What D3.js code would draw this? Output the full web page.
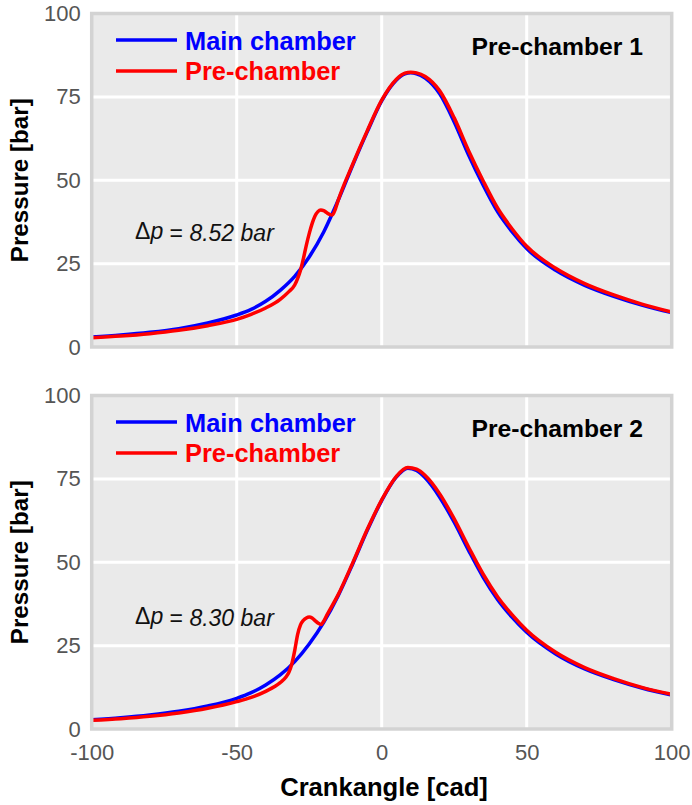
<!DOCTYPE html>
<html><head><meta charset="utf-8">
<script src="https://cdn.jsdelivr.net/npm/d3@7"></script>
<style>
body{margin:0;background:#fff;}
svg{display:block;font-family:"Liberation Sans",Arial,sans-serif;}
</style></head><body>
<svg id="c" width="692" height="805"></svg>
<script>
// ---- data ----
const xTicks = [-100, -50, 0, 50, 100];
const yTicks = [0, 25, 50, 75, 100];
const panelTitles = ["Pre-chamber 1", "Pre-chamber 2"];
const deltaLabels = ["8.52 bar", "8.30 bar"];
const seriesNames = ["Main chamber", "Pre-chamber"];

const caMain1 = [-100,-90,-80,-70,-60,-50,-45,-40,-35,-30,-25,-20,-15,-10,-5,0,5,8,10,12,15,20,25,30,35,40,45,50,60,70,80,90,100];
const main1   = [3.0,3.6,4.4,5.5,7.2,9.6,11.3,13.7,17.0,21.2,27.0,34.5,44.0,54.5,64.5,73.8,80.0,81.9,82.2,81.95,80.6,75.9,67.5,57.5,48.5,40.5,34.5,29.5,23.0,18.5,15.2,12.5,10.3];

const caPre1 = [-100,-90,-80,-70,-60,-50,-45,-40,-35,-32,-30,-29,-28,-27,-26,-25,-24,-23,-22,-21,-20,-19,-18,-17,-16,-15,-10,-5,0,5,8,10,12,15,20,25,30,35,40,45,50,60,70,80,90,100];
const pre1   = [2.8,3.3,4.0,5.0,6.4,8.3,9.8,11.7,14.3,16.6,18.6,20.5,23.0,26.5,30.5,34.0,37.0,39.3,40.6,41.1,40.9,40.3,39.8,39.6,41.3,44.0,54.8,64.8,74.0,80.2,82.1,82.4,82.2,81.1,76.8,68.7,58.8,49.8,41.6,35.4,30.2,23.6,19.0,15.6,12.8,10.5];

const caMain2 = [-100,-90,-80,-70,-60,-50,-45,-40,-35,-30,-25,-20,-15,-10,-5,0,5,9,12,15,20,25,30,35,40,45,50,60,70,80,90,100];
const main2   = [2.8,3.4,4.2,5.3,6.9,9.2,10.9,13.2,16.2,20.2,25.5,32.0,40.0,49.5,59.5,68.5,75.5,78.2,77.5,75.3,69.5,62.0,53.5,45.5,38.8,33.5,29.0,22.5,18.0,14.8,12.2,10.2];

const caPre2 = [-100,-90,-80,-70,-60,-50,-45,-40,-35,-33,-32,-31,-30,-29,-28,-27,-26,-25,-24,-23,-22,-21,-20,-19,-15,-10,-5,0,5,9,12,15,20,25,30,35,40,45,50,60,70,80,90,100];
const pre2   = [2.6,3.1,3.8,4.8,6.2,8.2,9.5,11.3,13.9,15.6,17.0,19.5,23.5,28.3,31.2,32.6,33.3,33.6,33.3,32.5,31.8,31.3,32.3,34.0,40.3,49.8,59.8,68.7,75.7,78.4,77.9,76.0,70.5,63.0,54.5,46.4,39.6,34.2,29.6,23.0,18.4,15.1,12.4,10.4];

const panels = [
  {title: panelTitles[0], delta: deltaLabels[0], main: caMain1.map((c,i)=>[c,main1[i]]), pre: caPre1.map((c,i)=>[c,pre1[i]])},
  {title: panelTitles[1], delta: deltaLabels[1], main: caMain2.map((c,i)=>[c,main2[i]]), pre: caPre2.map((c,i)=>[c,pre2[i]])}
];

// ---- layout ----
const svg = d3.select("#c");
const X0 = 91.7, X1 = 671.7;
const panelTops = [13.5, 395.5], panelH = 333.5;
const x = d3.scaleLinear().domain([-100,100]).range([X0, X1]);
const blue = "#0000ff", red = "#ff0000";
const fmt = d => String(d);

panels.forEach((p, pi) => {
  const top = panelTops[pi], bot = top + panelH;
  const y = d3.scaleLinear().domain([0,100]).range([bot, top]);
  const g = svg.append("g");
  g.append("rect").attr("x", X0).attr("y", top).attr("width", X1-X0).attr("height", panelH).attr("fill", "#eaeaea");
  // grid
  g.selectAll(".gx").data(xTicks.filter(t=>t>-100&&t<100)).join("line")
    .attr("x1", d=>x(d)).attr("x2", d=>x(d)).attr("y1", top).attr("y2", bot)
    .attr("stroke", "#fff").attr("stroke-width", 3);
  g.selectAll(".gy").data(yTicks.filter(t=>t>0&&t<100)).join("line")
    .attr("y1", d=>y(d)).attr("y2", d=>y(d)).attr("x1", X0).attr("x2", X1)
    .attr("stroke", "#fff").attr("stroke-width", 3);
  const clipId = "clip"+pi;
  svg.append("clipPath").attr("id", clipId).append("rect").attr("x", X0).attr("y", top).attr("width", X1-X0).attr("height", panelH);
  const line = d3.line().x(d=>x(d[0])).y(d=>y(d[1])).curve(d3.curveMonotoneX);
  g.append("path").datum(p.main).attr("d", line).attr("fill","none").attr("stroke", blue).attr("stroke-width", 3.5).attr("clip-path", `url(#${clipId})`);
  g.append("path").datum(p.pre).attr("d", line).attr("fill","none").attr("stroke", red).attr("stroke-width", 3.5).attr("clip-path", `url(#${clipId})`);
  // border
  g.append("rect").attr("x", X0).attr("y", top).attr("width", X1-X0).attr("height", panelH)
    .attr("fill","none").attr("stroke", "#d3d3d3").attr("stroke-width", 3.5);
  // y axis labels
  const yAxis = d3.axisLeft(y).tickValues(yTicks).tickFormat(fmt).tickSize(0).tickPadding(11);
  const ya = g.append("g").attr("transform", `translate(${X0},0)`).call(yAxis);
  ya.select(".domain").remove();
  ya.selectAll("text").attr("font-size", 22).attr("fill", "#555").attr("font-family", "Liberation Sans, Arial, sans-serif");
  g.append("text").attr("transform", `translate(28,${(top+bot)/2}) rotate(-90)`)
    .attr("text-anchor","middle").attr("font-size", 24.2).attr("font-weight","bold").attr("fill","#000").text("Pressure [bar]");
  // legend
  const leg = g.append("g");
  [[blue, seriesNames[0], 26.5, 36],[red, seriesNames[1], 57.5, 66.8]].forEach(([c, name, ly, ty]) => {
    leg.append("line").attr("x1", 116).attr("x2", 177).attr("y1", top+ly).attr("y2", top+ly).attr("stroke", c).attr("stroke-width", 3.5);
    leg.append("text").attr("x", 185).attr("y", top+ty).attr("font-size", 25.4).attr("font-weight","bold").attr("fill", c).text(name);
  });
  // title
  g.append("text").attr("x", 643).attr("y", top+41).attr("text-anchor","end").attr("font-size", 24.7).attr("font-weight","bold").attr("fill","#000").text(p.title);
  // delta p annotation
  const ay = pi===0 ? 240.7 : 625.5;
  const t = g.append("text").attr("x", 135).attr("y", ay).attr("fill","#111");
  t.append("tspan").attr("font-size", 23).attr("dy", -1.5).text("\u0394");
  t.append("tspan").attr("font-size", 23).attr("font-style","italic").text("p");
  t.append("tspan").attr("font-size", 23).attr("dy", 1.5).text(" = ");
  t.append("tspan").attr("font-size", 23).attr("font-style","italic").text(p.delta);
  // x axis (bottom panel only labels)
  if (pi === 1) {
    const xa = g.append("g").attr("transform", `translate(0,${bot})`).call(d3.axisBottom(x).tickValues(xTicks).tickFormat(fmt).tickSize(0).tickPadding(15));
    xa.select(".domain").remove();
    xa.selectAll("text").attr("font-size", 22).attr("fill", "#555").attr("font-family", "Liberation Sans, Arial, sans-serif");
    g.append("text").attr("x", 384).attr("y", 796).attr("text-anchor","middle").attr("font-size", 25.6).attr("font-weight","bold").attr("fill","#000").text("Crankangle [cad]");
  }
});
</script></body></html>
